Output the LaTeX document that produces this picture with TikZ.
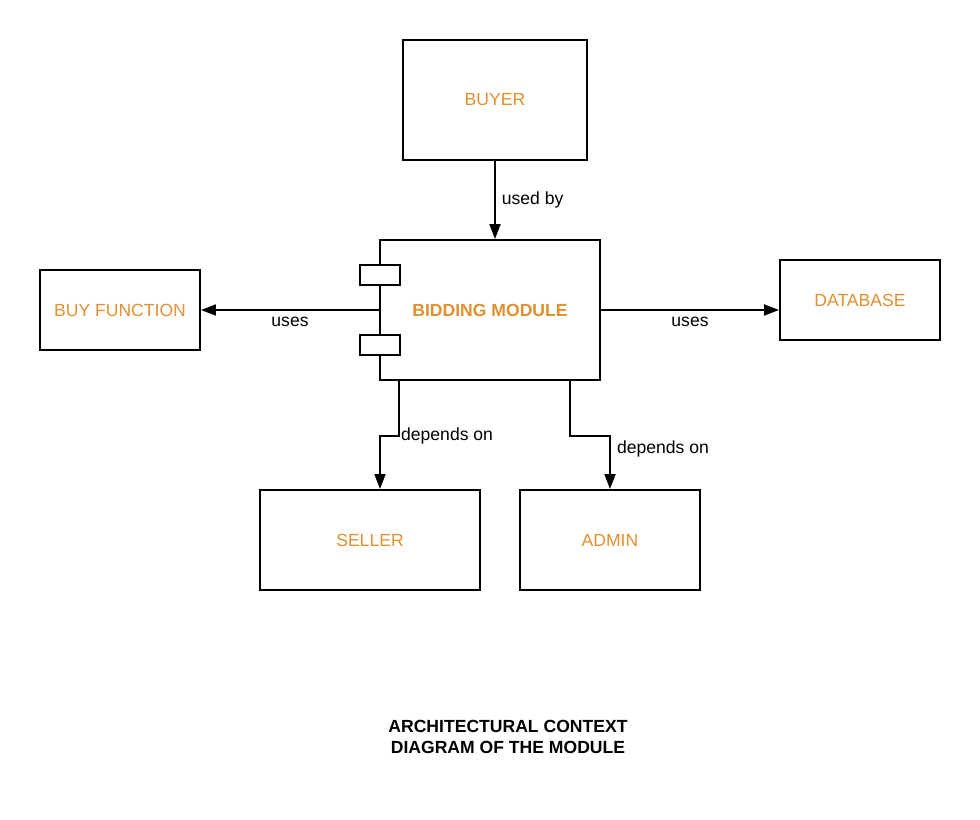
\documentclass[tikz,border=0pt]{standalone}
\usepackage{fontspec}
\setmainfont{Liberation Sans}
\usepackage{xcolor}
\usepackage{tikz}
\usetikzlibrary{arrows.meta, positioning, calc}
\definecolor{labelorange}{HTML}{E0902E}

\begin{document}
\begin{tikzpicture}[
    box/.style={draw, line width=1.1pt, text=labelorange, minimum width=#1},
    port/.style={draw, fill=white, line width=1.1pt, minimum width=0.8cm, minimum height=0.4cm, inner sep=0pt},
    arr/.style={line width=1.1pt, -{Triangle[length=3mm, width=2.2mm]}},
    lbl/.style={font=\normalsize, text=black}
  ]
  \useasboundingbox (0,0) rectangle (19.6,-16.4);

  % Components
  \node[box=3.68cm, minimum height=2.4cm] (buyer) at (9.9,-2.0) {BUYER};
  \node[box=4.4cm, minimum height=2.8cm, font=\bfseries] (module) at (9.8,-6.2) {BIDDING MODULE};
  \node[port] (porta) at (7.6,-5.5) {};
  \node[port] (portb) at (7.6,-6.9) {};
  \node[box=3.2cm, minimum height=1.6cm] (buyfn) at (2.4,-6.2) {BUY FUNCTION};
  \node[box=3.2cm, minimum height=1.6cm] (db) at (17.2,-6.0) {DATABASE};
  \node[box=4.4cm, minimum height=2.0cm] (seller) at (7.4,-10.8) {SELLER};
  \node[box=3.6cm, minimum height=2.0cm] (admin) at (12.2,-10.8) {ADMIN};

  % Connectors
  \draw[arr] (buyer.south) -- node[lbl, right] {used by} (buyer.south |- module.north);
  \draw[arr] (module.west) -- node[lbl, below] {uses} (buyfn.east);
  \draw[arr] (module.east) -- node[lbl, below] {uses} (module.east -| db.west);
  \draw[arr] ([xshift=4mm]module.south west) -- ++(0,-1.1) coordinate (bendl)
    -| ([xshift=2mm]seller.north);
  \node[lbl, anchor=west, inner sep=1pt] (depl) at (bendl) {depends on};
  \draw[arr] ([xshift=-6.2mm]module.south east) -- ++(0,-1.1) coordinate (bendr)
    -| (admin.north);
  \node[lbl, anchor=west, inner sep=1pt] (depr) at ($(bendr -| admin.north)+(0.1,-0.26)$) {depends on};

  % Title
  \node[font=\bfseries, align=center] (title) at (10.16,-14.74) {ARCHITECTURAL CONTEXT\\DIAGRAM OF THE MODULE};
\end{tikzpicture}
\end{document}
